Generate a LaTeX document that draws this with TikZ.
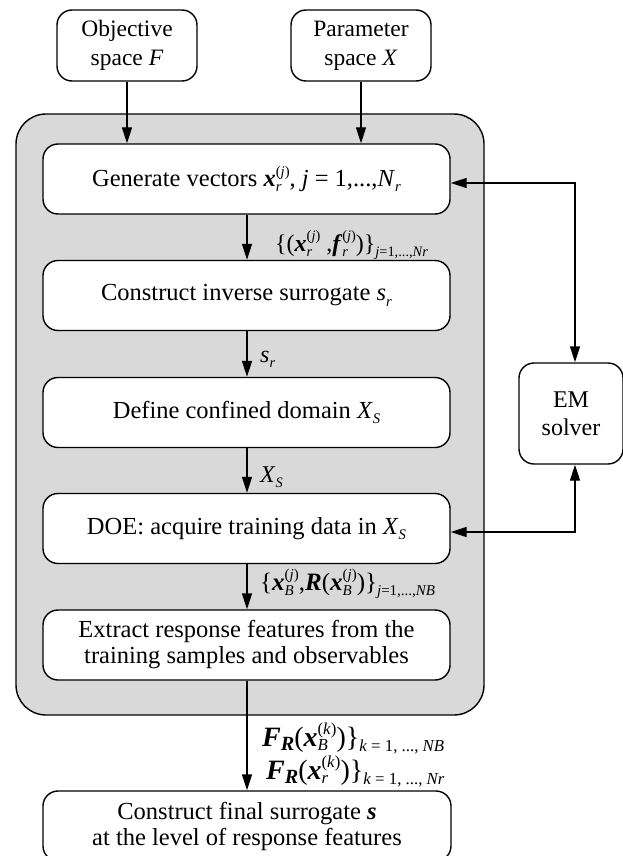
\documentclass[tikz,border=0pt]{standalone}
\usepackage{graphicx}
\usepackage{fontspec}
\setmainfont{Liberation Serif}
\usetikzlibrary{arrows.meta}
\newcommand{\myit}[1]{\textit{#1}}
\newcommand{\mybi}[1]{\textbf{\textit{#1}}}
% base with subscript (#2) and superscript (#3), set in text mode
\newcommand{\sbsp}[3]{#1\begingroup\sbox0{\scalebox{0.6}{#2}}\sbox2{\scalebox{0.6}{#3}}%
  \rlap{\raisebox{-0.22em}{\usebox0}}\rlap{\raisebox{0.42em}{\usebox2}}%
  \ifdim\wd0>\wd2 \hspace*{\wd0}\else\hspace*{\wd2}\fi\endgroup}
\newcommand{\sbspb}[3]{#1\begingroup\sbox0{\scalebox{0.6}{#2}}\sbox2{\scalebox{0.6}{#3}}%
  \rlap{\raisebox{-0.16em}{\usebox0}}\rlap{\raisebox{0.4em}{\usebox2}}%
  \ifdim\wd0>\wd2 \hspace*{\wd0}\else\hspace*{\wd2}\fi\endgroup}
\tikzset{
  box/.style={draw=black, line width=1.4pt, fill=white, rounded corners=15pt,
    align=center, inner sep=0pt, minimum width=407pt, minimum height=70pt,
    font=\fontsize{24.5}{26}\selectfont},
  topbox/.style={box, minimum width=140pt, minimum height=71pt, font=\fontsize{23.5}{29}\selectfont},
  container/.style={draw=black, line width=1.4pt, fill=black!15, rounded corners=30pt},
  arr/.style={line width=1.4pt, -{Triangle[length=16pt,width=10pt]}},
  darr/.style={line width=1.4pt, {Triangle[length=16pt,width=10pt]}-{Triangle[length=16pt,width=10pt]}},
  lab/.style={anchor=base west, inner sep=0pt, font=\fontsize{24}{26}\selectfont},
  biglab/.style={anchor=base west, inner sep=0pt, font=\fontsize{28}{30}\selectfont}
}
\begin{document}
\begin{tikzpicture}[x=1pt,y=-1pt]
\useasboundingbox (0,0) rectangle (623,856);
\draw[container] (16,114) rectangle (484,715);
\node[topbox] (obj) at (127,45.5) {Objective\\space \myit{F}};
\node[topbox] (par) at (361,45.5) {Parameter\\space \myit{X}};
\node[box] (gen) at (246.5,179) {Generate vectors \sbsp{\mybi{x}}{\myit{r}}{(\myit{j})}, \myit{j} = 1,...,\sbsp{\myit{N}}{\myit{r}}{}};
\node[box] (inv) at (246.5,295.5) {Construct inverse surrogate \sbsp{\myit{s}}{\myit{r}}{}};
\node[box] (def) at (246.5,412.5) {Define confined domain \sbsp{\myit{X}}{\myit{S}}{}};
\node[box] (doe) at (246.5,528.5) {DOE: acquire training data in \sbsp{\myit{X}}{\myit{S}}{}};
\node[box] (ext) at (246.5,645) {Extract response features from the\\training samples and observables};
\node[box, minimum width=408pt, minimum height=70pt] (fin) at (247,826) {Construct final surrogate \mybi{s}\\at the level of response features};
\node[box, minimum width=104pt, minimum height=101pt, font=\fontsize{24}{28}\selectfont] (em) at (571,413.5) {EM\\solver};
\coordinate (rt) at (575,183);
\coordinate (rb) at (575,532);
\coordinate (ax) at (247,0);
\draw[arr] (obj.south) -- (obj.south |- gen.north);
\draw[arr] (par.south) -- (par.south |- gen.north);
\draw[arr] (ax |- gen.south) -- (ax |- inv.north);
\draw[arr] (ax |- inv.south) -- (ax |- def.north);
\draw[arr] (ax |- def.south) -- (ax |- doe.north);
\draw[arr] (ax |- doe.south) -- (ax |- ext.north);
\draw[arr] (ax |- ext.south) -- (ax |- fin.north);
\draw[darr] (rt -| gen.east) -- (rt) -- (rt |- em.north);
\draw[darr] (rb -| doe.east) -- (rb) -- (rb |- em.south);
\node[lab] (l1) at (275,251) {\{(\sbsp{\mybi{x}}{\myit{r}}{(\myit{j})} ,\sbsp{\mybi{f}}{\myit{r}}{(\myit{j})})\}\sbsp{}{\myit{j}=1,...,\myit{Nr}}{}};
\node[lab] (l2) at (260,362) {\sbsp{\myit{s}}{\myit{r}}{}};
\node[lab] (l3) at (260,482) {\sbsp{\myit{X}}{\myit{S}}{}};
\node[lab, font=\fontsize{25}{27}\selectfont] (l4) at (260,590) {\{\sbsp{\mybi{x}}{\myit{B}}{(\myit{j})},\mybi{R}(\sbsp{\mybi{x}}{\myit{B}}{(\myit{j})})\}\sbsp{}{\myit{j}=1,...,\myit{NB}}{}};
\node[biglab] (l5) at (262,746) {\mybi{F}\raisebox{-0.16em}{\scalebox{0.72}{\mybi{R}}}(\sbspb{\mybi{x}}{\myit{B}}{(\myit{k})})\}\raisebox{-0.2em}{\scalebox{0.6}{\myit{k} = 1, ..., \myit{NB}}}};
\node[biglab] (l6) at (266,779) {\mybi{F}\raisebox{-0.16em}{\scalebox{0.72}{\mybi{R}}}(\sbspb{\mybi{x}}{\myit{r}}{(\myit{k})})\}\raisebox{-0.2em}{\scalebox{0.6}{\myit{k} = 1, ..., \myit{Nr}}}};
\end{tikzpicture}
\end{document}
